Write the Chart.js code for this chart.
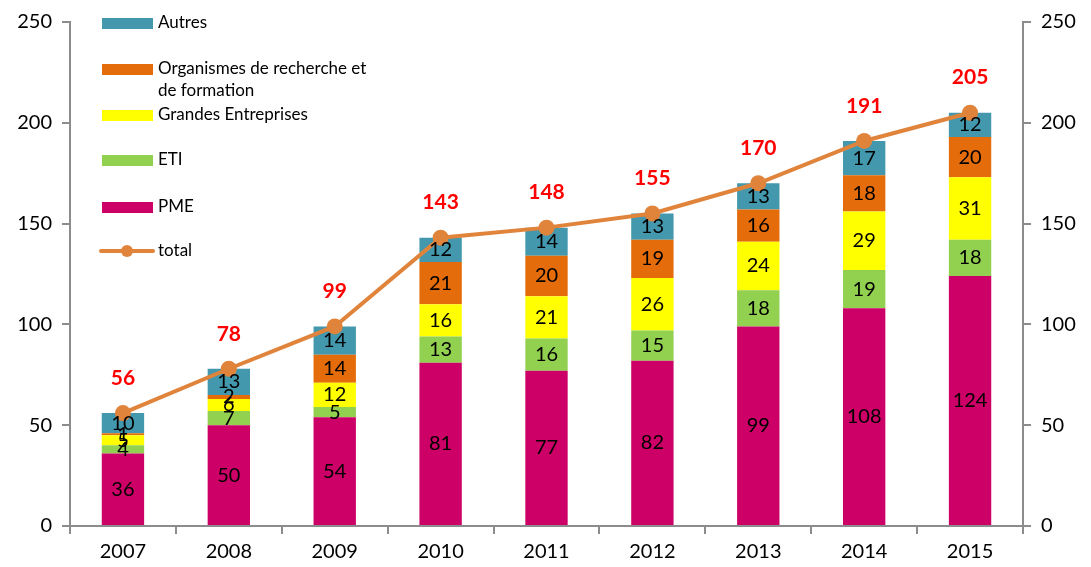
<!DOCTYPE html>
<html>
<head>
<meta charset="utf-8">
<script src="https://cdn.jsdelivr.net/npm/chart.js@4/dist/chart.umd.min.js"></script>
<style>
  html, body { margin: 0; padding: 0; background: #fff; }
  #wrap { width: 1091px; height: 567px; }
</style>
</head>
<body>
<div id="wrap"><canvas id="barChart"></canvas></div>
<script>
const years = ['2007', '2008', '2009', '2010', '2011', '2012', '2013', '2014', '2015'];
const pme = [36, 50, 54, 81, 77, 82, 99, 108, 124];
const eti = [4, 7, 5, 13, 16, 15, 18, 19, 18];
const grandes = [5, 6, 12, 16, 21, 26, 24, 29, 31];
const organismes = [1, 2, 14, 21, 20, 19, 16, 18, 20];
const autres = [10, 13, 14, 12, 14, 13, 13, 17, 12];
const totals = [56, 78, 99, 143, 148, 155, 170, 191, 205];
const yTicks = [0, 50, 100, 150, 200, 250];

const FONT = 'Lato, "Open Sans", sans-serif';
const axisGrey = '#8c8c8c';
const lineColor = '#E0843C';

// numbers inside the bars + red totals above the line
const labelPlugin = {
	id: 'labels',
	afterDatasetsDraw(chart) {
		const ctx = chart.ctx;
		ctx.save();
		ctx.textAlign = 'center';
		ctx.textBaseline = 'middle';
		chart.data.datasets.forEach((ds, i) => {
			const meta = chart.getDatasetMeta(i);
			if (ds.type === 'line') {
				ctx.fillStyle = '#FF0000';
				ctx.font = 'bold 21px ' + FONT;
				meta.data.forEach((pt, j) => {
					ctx.fillText(ds.data[j], pt.x, pt.y - 35);
				});
			} else {
				ctx.fillStyle = '#000';
				ctx.font = '20px ' + FONT;
				meta.data.forEach((bar, j) => {
					ctx.fillText(ds.data[j], bar.x, (bar.y + bar.base) / 2);
				});
			}
		});
		ctx.restore();
	},
};

// legend drawn inside the plot, top left
const legendPlugin = {
	id: 'customLegend',
	afterDraw(chart) {
		const ctx = chart.ctx;
		const items = [
			{ text: ['Autres'], color: '#4398AD', y: 23 },
			{ text: ['Organismes de recherche et', 'de formation'], color: '#E46C0A', y: 69 },
			{ text: ['Grandes Entreprises'], color: '#FFFF00', y: 115 },
			{ text: ['ETI'], color: '#92D050', y: 160 },
			{ text: ['PME'], color: '#CC0066', y: 207 },
		];
		ctx.save();
		ctx.font = '17px ' + FONT;
		ctx.textBaseline = 'middle';
		ctx.textAlign = 'left';
		items.forEach((it) => {
			ctx.fillStyle = it.color;
			ctx.fillRect(102, it.y - 5, 51, 11);
			ctx.fillStyle = '#000';
			it.text.forEach((t, k) => ctx.fillText(t, 158, it.y + k * 22));
		});
		// total entry
		ctx.strokeStyle = lineColor;
		ctx.lineWidth = 4;
		ctx.lineCap = 'round';
		ctx.beginPath();
		ctx.moveTo(101, 251);
		ctx.lineTo(153, 251);
		ctx.stroke();
		ctx.fillStyle = lineColor;
		ctx.beginPath();
		ctx.arc(127, 251, 6, 0, Math.PI * 2);
		ctx.fill();
		ctx.fillStyle = '#000';
		ctx.fillText('total', 158, 251);
		ctx.restore();
	},
};

const yAxis = (position, width) => ({
	type: 'linear',
	position: position,
	min: 0,
	max: 250,
	stacked: true,
	afterBuildTicks: (scale) => {
		scale.ticks = yTicks.map((v) => ({ value: v }));
	},
	afterFit: (scale) => {
		scale.width = width;
	},
	border: { color: axisGrey, width: 2 },
	grid: { drawOnChartArea: false, drawTicks: true, tickLength: 8, color: axisGrey, lineWidth: 2 },
	ticks: { color: '#000', font: { size: 20, family: FONT }, padding: 10 },
});

const data = {
	labels: years,
	datasets: [
		{ type: 'line', label: 'total', data: totals, borderColor: lineColor, backgroundColor: lineColor,
			borderWidth: 4, pointRadius: 8, pointBackgroundColor: lineColor, pointBorderWidth: 0,
			order: 0, yAxisID: 'y', stack: 'total' },
		{ label: 'PME', data: pme, backgroundColor: '#CC0066', order: 1, stack: 'bars' },
		{ label: 'ETI', data: eti, backgroundColor: '#92D050', order: 1, stack: 'bars' },
		{ label: 'Grandes Entreprises', data: grandes, backgroundColor: '#FFFF00', order: 1, stack: 'bars' },
		{ label: 'Organismes de recherche et de formation', data: organismes, backgroundColor: '#E46C0A', order: 1, stack: 'bars' },
		{ label: 'Autres', data: autres, backgroundColor: '#4398AD', order: 1, stack: 'bars' },
	],
};

const ctx = document.getElementById('barChart');
new Chart(ctx, {
	type: 'bar',
	data: data,
	options: {
		responsive: true,
		maintainAspectRatio: false,
		animation: false,
		datasets: { bar: { barPercentage: 0.4, categoryPercentage: 1 } },
		layout: { padding: { top: 22, left: 0, right: 0, bottom: 0 } },
		plugins: { legend: { display: false }, tooltip: { enabled: false } },
		scales: {
			x: {
				stacked: true,
				afterFit: (scale) => {
					scale.height = 41;
				},
				border: { color: axisGrey, width: 2 },
				grid: { offset: true, drawOnChartArea: false, drawTicks: true, tickLength: 8, color: axisGrey, lineWidth: 2 },
				ticks: { color: '#000', font: { size: 20, family: FONT }, padding: 6 },
			},
			y: yAxis('left', 70),
			y2: yAxis('right', 68),
		},
	},
	plugins: [labelPlugin, legendPlugin],
});
</script>
</body>
</html>
